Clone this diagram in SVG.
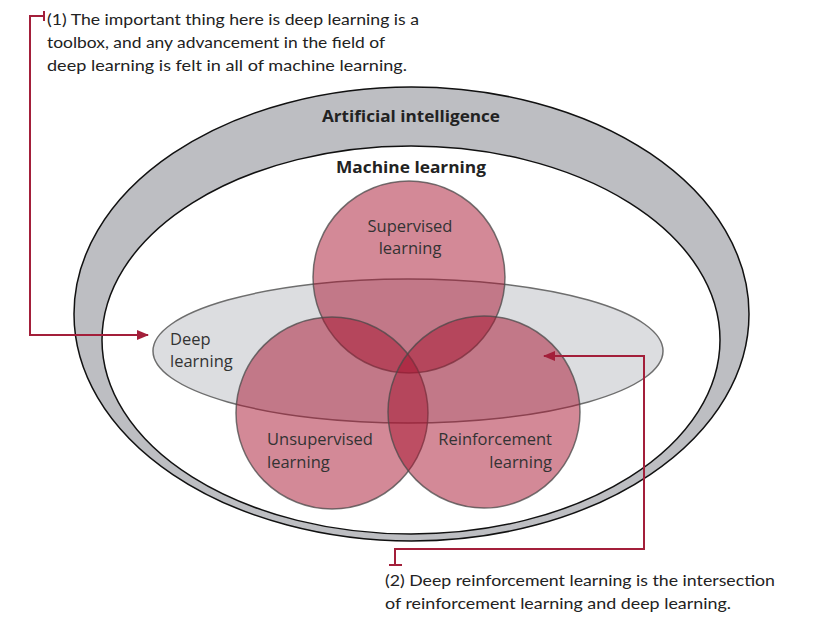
<svg xmlns="http://www.w3.org/2000/svg" width="829" height="624" viewBox="0 0 829 624">
<style>
.ann{font-family:"Lato","Open Sans",sans-serif;font-size:16px;fill:#222}
.lbl{font-family:"Open Sans","Noto Sans",sans-serif;font-size:16.5px;fill:#333}
.ttl{font-family:"Open Sans","Noto Sans",sans-serif;font-size:16.5px;font-weight:700;fill:#222}
.circ{fill:#a8142f;fill-opacity:0.5;stroke:#4a4a4a;stroke-opacity:0.75;stroke-width:1.5}
.conn{fill:none;stroke:#a31f3a;stroke-width:2}
</style>
<defs>
<marker id="arr" viewBox="0 0 12 10" refX="11" refY="5" markerWidth="12" markerHeight="10" markerUnits="userSpaceOnUse" orient="auto">
<path d="M0,0 L12,5 L0,10 Z" fill="#a31f3a"/>
</marker>
</defs>
<rect width="829" height="624" fill="#fff"/>
<g id="ai">
<ellipse cx="411.5" cy="314" rx="337.5" ry="227" fill="#bdbec2" stroke="#111" stroke-width="1.5"/>
<text class="ttl" x="411" y="122" text-anchor="middle" textLength="178" lengthAdjust="spacingAndGlyphs">Artificial intelligence</text>
</g>
<g id="ml">
<ellipse cx="411" cy="340" rx="309" ry="194" fill="#fff" stroke="#111" stroke-width="1.5"/>
<text class="ttl" x="411" y="173" text-anchor="middle" textLength="150" lengthAdjust="spacingAndGlyphs">Machine learning</text>
</g>
<g id="dl">
<ellipse cx="408" cy="351" rx="255" ry="72" fill="#dcdde0" stroke="#6e6e6e" stroke-width="1.5"/>
</g>
<g id="supervised">
<circle class="circ" cx="409" cy="277" r="96"/>
</g>
<g id="unsupervised">
<circle class="circ" cx="332" cy="413" r="96"/>
</g>
<g id="reinforcement">
<circle class="circ" cx="484" cy="412" r="96"/>
</g>
<g id="labels">
<text class="lbl" x="410" y="232" text-anchor="middle">Supervised</text>
<text class="lbl" x="410" y="254" text-anchor="middle">learning</text>
<text class="lbl" x="170" y="345">Deep</text>
<text class="lbl" x="170" y="367">learning</text>
<text class="lbl" x="267" y="445">Unsupervised</text>
<text class="lbl" x="267" y="468">learning</text>
<text class="lbl" x="552" y="445" text-anchor="end">Reinforcement</text>
<text class="lbl" x="552" y="468" text-anchor="end">learning</text>
</g>
<g id="connectors">
<path class="conn" d="M44,16 H30 V335 H148" marker-end="url(#arr)"/>
<path class="conn" d="M44,11 V21"/>
<path class="conn" d="M395,565 V549 H644 V356 H544" marker-end="url(#arr)"/>
<path class="conn" d="M389,565 H402"/>
</g>
<g id="note1">
<text class="ann" x="47" y="25" textLength="372" lengthAdjust="spacingAndGlyphs">(1) The important thing here is deep learning is a</text>
<text class="ann" x="47" y="48" textLength="338" lengthAdjust="spacingAndGlyphs">toolbox, and any advancement in the field of</text>
<text class="ann" x="47" y="71" textLength="360" lengthAdjust="spacingAndGlyphs">deep learning is felt in all of machine learning.</text>
</g>
<g id="note2">
<text class="ann" x="385" y="586" textLength="390" lengthAdjust="spacingAndGlyphs">(2) Deep reinforcement learning is the intersection</text>
<text class="ann" x="385" y="609" textLength="346" lengthAdjust="spacingAndGlyphs">of reinforcement learning and deep learning.</text>
</g>
</svg>
